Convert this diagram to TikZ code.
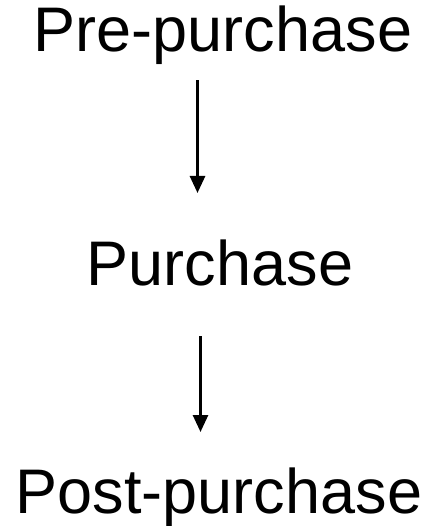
\documentclass[tikz,border=0pt]{standalone}
\usepackage{fontspec}
\setmainfont{Liberation Sans}
\usetikzlibrary{arrows.meta}
\tikzset{
  stage/.style={inner sep=0pt, anchor=base, font=\fontsize{63}{70}\selectfont},
  flow/.style={line width=2.7pt, -{Triangle[width=15pt,length=17pt]}}
}
\begin{document}
\begin{tikzpicture}[x=1pt,y=1pt]
  \useasboundingbox (0,0) rectangle (428,-526);
  % stage labels
  \node[stage] (pre)  at (223,-52)  {Pre-purchase};
  \node[stage] (buy)  at (220,-285) {Purchase};
  \node[stage] (post) at (219,-513) {Post-purchase};
  % arrow end points
  \coordinate (a1s) at (197.5,-80.5);
  \coordinate (a1e) at (197.5,-193);
  \coordinate (a2s) at (200.5,-336);
  \coordinate (a2e) at (200.5,-432);
  \draw[flow] (a1s) -- (a1e);
  \draw[flow] (a2s) -- (a2e);
\end{tikzpicture}
\end{document}
